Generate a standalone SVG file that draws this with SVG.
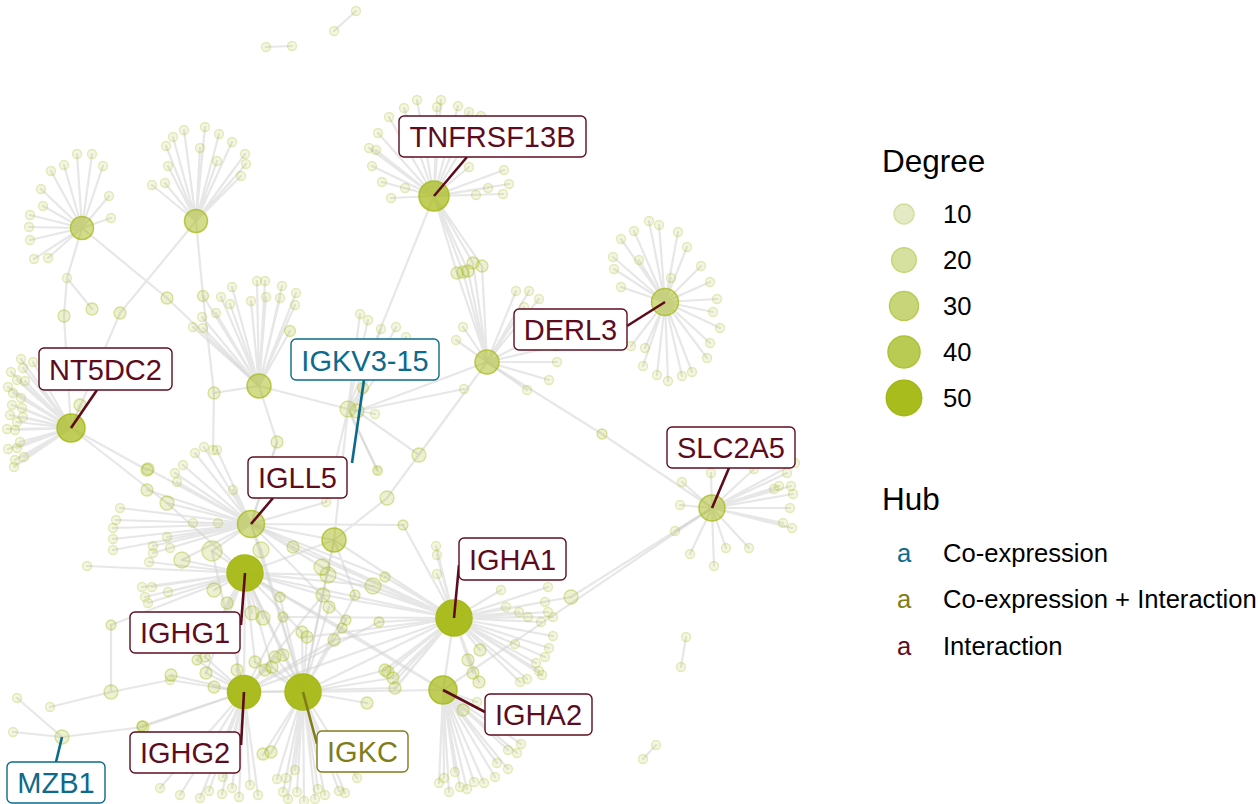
<svg xmlns="http://www.w3.org/2000/svg" width="1258" height="804" viewBox="0 0 1258 804">
<style>
.e{fill:none;stroke:#d4d4d4;stroke-opacity:.55;stroke-width:2.2;stroke-linecap:round}
circle{fill:#a7ba18;stroke:#a7ba18}
.l{fill-opacity:.13;stroke-opacity:.28;stroke-width:1.3}
.s{fill-opacity:.2;stroke-opacity:.4;stroke-width:1.3}
.m{fill-opacity:.5;stroke-opacity:.75;stroke-width:1.5}
.b{fill-opacity:.72;stroke-opacity:.85;stroke-width:1.5}
.h{fill-opacity:.97;stroke-opacity:1;stroke-width:1.5}
.lb rect{fill:#fff;stroke-width:1.4}
.lb text{font-family:"Liberation Sans",Arial,sans-serif;font-size:29px;text-anchor:middle}
.lb line{stroke-width:2.6}
.int rect,.int line{stroke:#5e0c1d}.int text{fill:#5e0c1d}
.co rect,.co line{stroke:#0c6a8c}.co text{fill:#0c6a8c}
.ci rect,.ci line{stroke:#807c18}.ci text{fill:#807c18}
.lg{font-family:"Liberation Sans",Arial,sans-serif;font-size:25.6px;fill:#000}
.lt{font-family:"Liberation Sans",Arial,sans-serif;font-size:31.5px;fill:#000}
</style>
<rect width="1258" height="804" fill="#fff"/>
<g id="connectors" class="e">
<path d="M434 196L417 100M434 196L441 100M434 196L404 108M434 196L437 107M434 196L458 106M434 196L469 112M434 196L481 116M434 196L389 117M434 196L378 133M434 196L369 148M434 196L376 150M434 196L372 166M434 196L382 182M434 196L405 188M434 196L391 198M434 196L469 167M434 196L504 170M434 196L509 184M434 196L488 188M434 196L503 194M434 196L476 195"/>
<path d="M665 302L649 221M665 302L659 225M665 302L634 231M665 302L678 232M665 302L621 239M665 302L687 247M665 302L613 257M665 302L639 260M665 302L614 269M665 302L701 266M665 302L671 278M665 302L710 282M665 302L621 287M665 302L717 299M665 302L713 312M665 302L720 328M665 302L710 343M665 302L707 358M665 302L631 346M665 302L645 348M665 302L643 366M665 302L657 375M665 302L668 381M665 302L682 376M665 302L692 372"/>
<path d="M712 508L711 473M712 508L682 482M712 508L754 469M712 508L787 473M712 508L795 463M712 508L779 486M712 508L791 486M712 508L774 489M712 508L793 494M712 508L790 508M712 508L680 505M712 508L783 523M712 508L792 528M712 508L675 531M712 508L726 548M712 508L749 548M712 508L690 554M712 508L714 566"/>
<path d="M71 428L21 359M71 428L33 362M71 428L11 372M71 428L23 368M71 428L17 380M71 428L25 381M71 428L8 387M71 428L13 393M71 428L21 398M71 428L12 405M71 428L22 408M71 428L23 417M71 428L10 415M71 428L17 422M71 428L7 429M71 428L15 430M71 428L20 442M71 428L8 449M71 428L17 448M71 428L24 457M71 428L15 460M71 428L14 467M71 428L80 405"/>
<path d="M82 228L77 154M82 228L92 154M82 228L64 165M82 228L103 166M82 228L51 171M82 228L41 189M82 228L109 196M82 228L43 206M82 228L30 215M82 228L111 218M82 228L29 227M82 228L30 240M82 228L34 259M82 228L48 258"/>
<path d="M196 221L152 185M196 221L165 183M196 221L168 166M196 221L166 146M196 221L173 137M196 221L184 130M196 221L205 127M196 221L219 134M196 221L200 148M196 221L232 142M196 221L217 161M196 221L245 154M196 221L246 164M196 221L241 176"/>
<path d="M259 386L232 287M259 386L257 281M259 386L265 281M259 386L282 286M259 386L203 296M259 386L221 297M259 386L230 304M259 386L251 301M259 386L266 297M259 386L280 298M259 386L296 293M259 386L295 305M259 386L216 313M259 386L202 317M259 386L193 327M259 386L203 328M259 386L290 331M259 386L214 393"/>
<path d="M348 409L360 314M348 409L368 320M352 410L381 329M352 410L396 327M352 410L406 337M348 409L363 388M348 409L375 414M348 409L378 471M357 411L464 389"/>
<path d="M487 362L516 291M487 362L529 291M487 362L539 299M487 362L524 307M487 362L463 327M487 362L456 340M487 362L546 332M487 362L556 346M487 362L557 362M487 362L549 380M487 362L527 390"/>
<path d="M251 524L195 453M251 524L204 447M251 524L217 450M251 524L277 442M251 524L148 469M251 524L183 465M251 524L175 473M251 524L177 482M251 524L147 490M251 524L120 508M251 524L167 503M251 524L116 520M251 524L113 528M251 524L113 539M251 524L113 550M251 524L193 523M251 524L218 523M251 524L167 537M251 524L153 546M251 524L170 548M251 524L153 553M251 524L233 490M251 524L326 502M251 524L212 551M251 524L182 560M251 524L261 550M251 524L293 547M251 524L334 540M251 524L322 567"/>
<path d="M245 573L149 562M245 573L142 587M245 573L152 587M245 573L168 592M245 573L145 597M245 573L148 603M245 573L214 590M245 573L227 603M245 573L252 613M245 573L263 618M245 573L111 625M245 573L87 566M245 573L212 551M245 573L182 560M245 573L328 575M245 573L323 595M245 573L280 597M245 573L302 632M245 573L342 628M245 573L373 586M245 573L197 660M245 573L205 657M245 573L237 670M245 573L255 662M245 573L272 667M245 573L283 655M245 573L206 673M245 573L334 540"/>
<path d="M244 692L212 551M244 692L323 595M244 692L283 617M244 692L334 640M244 692L379 622M244 692L197 660M244 692L205 657M244 692L237 670M244 692L265 670M244 692L275 657M244 692L171 675M244 692L206 673M244 692L214 687M244 692L142 726M244 692L395 688M244 692L222 794M244 692L232 788M244 692L239 797M244 692L209 791M244 692L223 777M244 692L160 788M244 692L180 795M244 692L200 798M244 692L250 785M244 692L258 795"/>
<path d="M303 692L277 779M303 692L286 778M303 692L295 770M303 692L283 792M303 692L297 792M303 692L288 799M303 692L304 801M303 692L315 799M303 692L318 789M303 692L325 795M303 692L339 791M303 692L345 793M303 692L357 778M303 692L263 755M303 692L271 753M303 692L367 703M303 692L385 670M303 692L393 678M303 692L329 607M303 692L280 597M303 692L302 632M303 692L307 637M303 692L346 620M303 692L355 595M303 692L261 550M303 692L255 662M303 692L265 670M303 692L272 667M303 692L283 655M303 692L275 657M303 692L334 540"/>
<path d="M454 618L436 546M454 618L437 555M454 618L437 574M454 618L403 525M454 618L501 590M454 618L548 587M454 618L506 607M454 618L545 602M454 618L571 597M454 618L519 612M454 618L528 617M454 618L541 622M454 618L548 612M454 618L553 617M454 618L553 636M454 618L515 644M454 618L549 648M454 618L545 657M454 618L536 663M454 618L539 671M454 618L542 675M454 618L480 650M454 618L468 660M454 618L473 673M454 618L479 682M454 618L527 679M454 618L520 682M454 618L388 672M454 618L393 683M454 618L395 689M454 618L322 567M454 618L328 575M454 618L323 595M454 618L283 617M454 618L307 637M454 618L334 640M454 618L373 586M454 618L385 577M454 618L379 622M454 618L293 547M454 618L385 670M454 618L393 678M454 618L395 688M454 618L334 540M454 618L245 573M454 618L303 692M454 618L244 692M454 618L251 524"/>
<path d="M443 690L477 702M443 690L463 710M443 690L521 744M443 690L508 750M443 690L517 753M443 690L497 763M443 690L508 769M443 690L495 777M443 690L484 783M443 690L474 782M443 690L467 789M443 690L460 787M443 690L455 772M443 690L449 792M443 690L444 778M443 690L439 783M443 690L342 628M443 690L303 692M443 690L245 573M443 690L454 618M443 690L712 508"/>
<path d="M82 228L67 278L64 316L71 428M67 278L92 309M82 228L167 298L259 386M196 221L120 313L71 428M196 221L203 296L214 393L213 450M434 196L457 273L487 362M434 196L463 272L487 362M434 196L468 271L487 362M434 196L473 263L487 362M434 196L482 266L487 362M434 196L348 409M487 362L602 434L712 508M712 508L571 597M487 362L419 455L357 411M487 362L387 498L334 540M487 362L357 411M259 386L277 442L251 524M348 409L334 540M71 428L147 470M71 428L167 503L245 573M259 386L348 409M334 540L303 692M251 524L303 692M245 573L303 692M245 573L244 692M244 692L303 692M62 737L17 698M62 737L13 732M62 737L143 727L244 692M50 707L111 692L170 680L244 692M111 692L111 625M355 595L334 540M377 470L348 409M403 525L251 524M385 577L251 524M326 502L348 409M346 620L251 524"/>
<path d="M266 47L292 46M334 31L356 11M686 637L681 667M656 745L643 759"/>
</g>
<g id="leaves">
<circle class="l" r="4.5" cx="417" cy="100"/><circle class="l" r="4.5" cx="441" cy="100"/><circle class="l" r="4.5" cx="404" cy="108"/><circle class="l" r="4.5" cx="437" cy="107"/><circle class="l" r="4.5" cx="458" cy="106"/><circle class="l" r="4.5" cx="469" cy="112"/><circle class="l" r="4.5" cx="481" cy="116"/><circle class="l" r="4.5" cx="389" cy="117"/><circle class="l" r="4.5" cx="378" cy="133"/><circle class="l" r="4.5" cx="369" cy="148"/><circle class="l" r="4.5" cx="376" cy="150"/><circle class="l" r="4.5" cx="372" cy="166"/><circle class="l" r="4.5" cx="382" cy="182"/><circle class="l" r="4.5" cx="405" cy="188"/><circle class="l" r="4.5" cx="391" cy="198"/><circle class="l" r="4.5" cx="469" cy="167"/><circle class="l" r="4.5" cx="504" cy="170"/><circle class="l" r="4.5" cx="509" cy="184"/><circle class="l" r="4.5" cx="488" cy="188"/><circle class="l" r="4.5" cx="503" cy="194"/><circle class="l" r="4.5" cx="476" cy="195"/>
<circle class="s" r="6" cx="457" cy="273"/><circle class="s" r="6" cx="463" cy="272"/><circle class="s" r="6" cx="468" cy="271"/><circle class="s" r="6" cx="473" cy="263"/><circle class="s" r="6" cx="482" cy="266"/>
<circle class="l" r="4.5" cx="649" cy="221"/><circle class="l" r="4.5" cx="659" cy="225"/><circle class="l" r="4.5" cx="634" cy="231"/><circle class="l" r="4.5" cx="678" cy="232"/><circle class="l" r="4.5" cx="621" cy="239"/><circle class="l" r="4.5" cx="687" cy="247"/><circle class="l" r="4.5" cx="613" cy="257"/><circle class="l" r="4.5" cx="639" cy="260"/><circle class="l" r="4.5" cx="614" cy="269"/><circle class="l" r="4.5" cx="701" cy="266"/><circle class="l" r="4.5" cx="671" cy="278"/><circle class="l" r="4.5" cx="710" cy="282"/><circle class="l" r="4.5" cx="621" cy="287"/><circle class="l" r="4.5" cx="717" cy="299"/><circle class="l" r="4.5" cx="713" cy="312"/><circle class="l" r="4.5" cx="720" cy="328"/><circle class="l" r="4.5" cx="710" cy="343"/><circle class="l" r="4.5" cx="707" cy="358"/><circle class="l" r="4.5" cx="631" cy="346"/><circle class="l" r="4.5" cx="645" cy="348"/><circle class="l" r="4.5" cx="643" cy="366"/><circle class="l" r="4.5" cx="657" cy="375"/><circle class="l" r="4.5" cx="668" cy="381"/><circle class="l" r="4.5" cx="682" cy="376"/><circle class="l" r="4.5" cx="692" cy="372"/>
<circle class="l" r="4.5" cx="711" cy="473"/><circle class="l" r="4.5" cx="682" cy="482"/><circle class="l" r="4.5" cx="754" cy="469"/><circle class="l" r="4.5" cx="787" cy="473"/><circle class="l" r="4.5" cx="795" cy="463"/><circle class="l" r="4.5" cx="779" cy="486"/><circle class="l" r="4.5" cx="791" cy="486"/><circle class="l" r="4.5" cx="774" cy="489"/><circle class="l" r="4.5" cx="793" cy="494"/><circle class="l" r="4.5" cx="790" cy="508"/><circle class="l" r="4.5" cx="680" cy="505"/><circle class="l" r="4.5" cx="783" cy="523"/><circle class="l" r="4.5" cx="792" cy="528"/><circle class="l" r="4.5" cx="675" cy="531"/><circle class="l" r="4.5" cx="726" cy="548"/><circle class="l" r="4.5" cx="749" cy="548"/><circle class="l" r="4.5" cx="690" cy="554"/><circle class="l" r="4.5" cx="714" cy="566"/><circle class="s" r="5" cx="602" cy="434"/>
<circle class="l" r="4.5" cx="21" cy="359"/><circle class="l" r="4.5" cx="33" cy="362"/><circle class="l" r="4.5" cx="11" cy="372"/><circle class="l" r="4.5" cx="23" cy="368"/><circle class="l" r="4.5" cx="17" cy="380"/><circle class="l" r="4.5" cx="25" cy="381"/><circle class="l" r="4.5" cx="8" cy="387"/><circle class="l" r="4.5" cx="13" cy="393"/><circle class="l" r="4.5" cx="21" cy="398"/><circle class="l" r="4.5" cx="12" cy="405"/><circle class="l" r="4.5" cx="22" cy="408"/><circle class="l" r="4.5" cx="23" cy="417"/><circle class="l" r="4.5" cx="10" cy="415"/><circle class="l" r="4.5" cx="17" cy="422"/><circle class="l" r="4.5" cx="7" cy="429"/><circle class="l" r="4.5" cx="15" cy="430"/><circle class="l" r="4.5" cx="20" cy="442"/><circle class="l" r="4.5" cx="8" cy="449"/><circle class="l" r="4.5" cx="17" cy="448"/><circle class="l" r="4.5" cx="24" cy="457"/><circle class="l" r="4.5" cx="15" cy="460"/><circle class="l" r="4.5" cx="14" cy="467"/><circle class="s" r="6" cx="80" cy="405"/>
<circle class="l" r="4.5" cx="77" cy="154"/><circle class="l" r="4.5" cx="92" cy="154"/><circle class="l" r="4.5" cx="64" cy="165"/><circle class="l" r="4.5" cx="103" cy="166"/><circle class="l" r="4.5" cx="51" cy="171"/><circle class="l" r="4.5" cx="41" cy="189"/><circle class="l" r="4.5" cx="109" cy="196"/><circle class="l" r="4.5" cx="43" cy="206"/><circle class="l" r="4.5" cx="30" cy="215"/><circle class="l" r="4.5" cx="111" cy="218"/><circle class="l" r="4.5" cx="29" cy="227"/><circle class="l" r="4.5" cx="30" cy="240"/><circle class="l" r="4.5" cx="34" cy="259"/><circle class="l" r="4.5" cx="48" cy="258"/>
<circle class="l" r="4.5" cx="152" cy="185"/><circle class="l" r="4.5" cx="165" cy="183"/><circle class="l" r="4.5" cx="168" cy="166"/><circle class="l" r="4.5" cx="166" cy="146"/><circle class="l" r="4.5" cx="173" cy="137"/><circle class="l" r="4.5" cx="184" cy="130"/><circle class="l" r="4.5" cx="205" cy="127"/><circle class="l" r="4.5" cx="219" cy="134"/><circle class="l" r="4.5" cx="200" cy="148"/><circle class="l" r="4.5" cx="232" cy="142"/><circle class="l" r="4.5" cx="217" cy="161"/><circle class="l" r="4.5" cx="245" cy="154"/><circle class="l" r="4.5" cx="246" cy="164"/><circle class="l" r="4.5" cx="241" cy="176"/>
<circle class="l" r="4.5" cx="67" cy="278"/><circle class="s" r="6" cx="64" cy="316"/><circle class="s" r="6" cx="92" cy="309"/><circle class="s" r="6" cx="120" cy="313"/><circle class="s" r="6" cx="167" cy="298"/><circle class="s" r="6" cx="147" cy="470"/>
<circle class="l" r="4.5" cx="232" cy="287"/><circle class="l" r="4.5" cx="257" cy="281"/><circle class="l" r="4.5" cx="265" cy="281"/><circle class="l" r="4.5" cx="282" cy="286"/><circle class="s" r="5.5" cx="203" cy="296"/><circle class="l" r="4.5" cx="221" cy="297"/><circle class="l" r="4.5" cx="230" cy="304"/><circle class="l" r="4.5" cx="251" cy="301"/><circle class="l" r="4.5" cx="266" cy="297"/><circle class="l" r="4.5" cx="280" cy="298"/><circle class="l" r="4.5" cx="296" cy="293"/><circle class="l" r="4.5" cx="295" cy="305"/><circle class="l" r="4.5" cx="216" cy="313"/><circle class="l" r="4.5" cx="202" cy="317"/><circle class="l" r="4.5" cx="193" cy="327"/><circle class="l" r="4.5" cx="203" cy="328"/><circle class="s" r="5.5" cx="290" cy="331"/><circle class="s" r="6" cx="214" cy="393"/>
<circle class="l" r="4.5" cx="360" cy="314"/><circle class="l" r="4.5" cx="368" cy="320"/><circle class="l" r="4.5" cx="381" cy="329"/><circle class="l" r="4.5" cx="396" cy="327"/><circle class="l" r="4.5" cx="406" cy="337"/><circle class="s" r="5.5" cx="363" cy="388"/><circle class="l" r="4.5" cx="375" cy="414"/><circle class="l" r="4.5" cx="378" cy="471"/><circle class="l" r="4.5" cx="464" cy="389"/><circle class="s" r="7" cx="419" cy="455"/><circle class="s" r="6" cx="277" cy="442"/>
<circle class="l" r="4.5" cx="516" cy="291"/><circle class="l" r="4.5" cx="529" cy="291"/><circle class="l" r="4.5" cx="539" cy="299"/><circle class="l" r="4.5" cx="524" cy="307"/><circle class="l" r="4.5" cx="463" cy="327"/><circle class="l" r="4.5" cx="456" cy="340"/><circle class="l" r="4.5" cx="546" cy="332"/><circle class="l" r="4.5" cx="556" cy="346"/><circle class="l" r="4.5" cx="557" cy="362"/><circle class="l" r="4.5" cx="549" cy="380"/><circle class="l" r="4.5" cx="527" cy="390"/>
<circle class="l" r="4.5" cx="195" cy="453"/><circle class="l" r="4.5" cx="204" cy="447"/><circle class="l" r="4.5" cx="217" cy="450"/><circle class="l" r="4.5" cx="213" cy="450"/><circle class="s" r="6" cx="148" cy="469"/><circle class="l" r="4.5" cx="183" cy="465"/><circle class="l" r="4.5" cx="175" cy="473"/><circle class="l" r="4.5" cx="177" cy="482"/><circle class="s" r="6" cx="147" cy="490"/><circle class="l" r="4.5" cx="120" cy="508"/><circle class="s" r="7" cx="167" cy="503"/><circle class="l" r="4.5" cx="116" cy="520"/><circle class="l" r="4.5" cx="113" cy="528"/><circle class="l" r="4.5" cx="113" cy="539"/><circle class="l" r="4.5" cx="113" cy="550"/><circle class="l" r="4.5" cx="193" cy="523"/><circle class="l" r="4.5" cx="218" cy="523"/><circle class="l" r="4.5" cx="167" cy="537"/><circle class="l" r="4.5" cx="153" cy="546"/><circle class="l" r="4.5" cx="170" cy="548"/><circle class="l" r="4.5" cx="153" cy="553"/><circle class="l" r="4.5" cx="233" cy="490"/><circle class="l" r="4.5" cx="326" cy="502"/>
<circle class="s" r="10" cx="212" cy="551"/><circle class="s" r="8" cx="182" cy="560"/><circle class="s" r="8" cx="261" cy="550"/><circle class="s" r="6" cx="293" cy="547"/>
<circle class="l" r="4.5" cx="149" cy="562"/><circle class="l" r="4.5" cx="142" cy="587"/><circle class="l" r="4.5" cx="152" cy="587"/><circle class="l" r="4.5" cx="168" cy="592"/><circle class="l" r="4.5" cx="145" cy="597"/><circle class="l" r="4.5" cx="148" cy="603"/><circle class="s" r="7" cx="214" cy="590"/><circle class="s" r="6" cx="227" cy="603"/><circle class="s" r="7" cx="252" cy="613"/><circle class="s" r="7" cx="263" cy="618"/><circle class="s" r="5" cx="111" cy="625"/><circle class="l" r="4.5" cx="87" cy="566"/>
<circle class="s" r="8" cx="322" cy="567"/><circle class="s" r="8" cx="328" cy="575"/><circle class="s" r="7" cx="323" cy="595"/><circle class="s" r="6" cx="329" cy="607"/><circle class="s" r="5" cx="280" cy="597"/><circle class="s" r="5" cx="283" cy="617"/><circle class="s" r="6" cx="302" cy="632"/><circle class="s" r="6" cx="307" cy="637"/><circle class="s" r="6" cx="334" cy="640"/><circle class="s" r="5" cx="346" cy="620"/><circle class="s" r="5" cx="342" cy="628"/><circle class="s" r="5" cx="355" cy="595"/><circle class="s" r="8" cx="373" cy="586"/><circle class="s" r="5" cx="385" cy="577"/><circle class="s" r="5" cx="379" cy="622"/><circle class="s" r="7" cx="387" cy="498"/><circle class="l" r="4.5" cx="377" cy="470"/><circle class="s" r="5" cx="403" cy="525"/><circle class="l" r="4.5" cx="436" cy="546"/><circle class="l" r="4.5" cx="437" cy="555"/><circle class="l" r="4.5" cx="437" cy="574"/>
<circle class="s" r="5" cx="197" cy="660"/><circle class="s" r="5" cx="205" cy="657"/><circle class="s" r="6" cx="237" cy="670"/><circle class="s" r="6" cx="255" cy="662"/><circle class="s" r="6" cx="265" cy="670"/><circle class="s" r="6" cx="272" cy="667"/><circle class="s" r="6" cx="283" cy="655"/><circle class="s" r="6" cx="275" cy="657"/><circle class="s" r="6" cx="171" cy="675"/><circle class="s" r="6" cx="206" cy="673"/><circle class="s" r="6" cx="214" cy="687"/><circle class="s" r="5" cx="142" cy="726"/><circle class="s" r="6" cx="367" cy="703"/><circle class="s" r="6" cx="385" cy="670"/><circle class="s" r="6" cx="393" cy="678"/><circle class="s" r="6" cx="395" cy="688"/><circle class="s" r="6" cx="388" cy="672"/>
<circle class="s" r="6" cx="263" cy="754"/><circle class="s" r="6" cx="271" cy="752"/>
<circle class="l" r="4.5" cx="277" cy="779"/><circle class="l" r="4.5" cx="286" cy="778"/><circle class="l" r="4.5" cx="295" cy="770"/><circle class="l" r="4.5" cx="283" cy="792"/><circle class="l" r="4.5" cx="297" cy="792"/><circle class="l" r="4.5" cx="288" cy="799"/><circle class="l" r="4.5" cx="304" cy="801"/><circle class="l" r="4.5" cx="315" cy="799"/><circle class="l" r="4.5" cx="318" cy="789"/><circle class="l" r="4.5" cx="325" cy="795"/><circle class="l" r="4.5" cx="339" cy="791"/><circle class="l" r="4.5" cx="345" cy="793"/><circle class="l" r="4.5" cx="357" cy="778"/>
<circle class="l" r="4.5" cx="222" cy="794"/><circle class="l" r="4.5" cx="232" cy="788"/><circle class="l" r="4.5" cx="239" cy="797"/><circle class="l" r="4.5" cx="209" cy="791"/><circle class="l" r="4.5" cx="223" cy="777"/><circle class="l" r="4.5" cx="160" cy="788"/><circle class="l" r="4.5" cx="180" cy="795"/><circle class="l" r="4.5" cx="200" cy="798"/><circle class="l" r="4.5" cx="250" cy="785"/><circle class="l" r="4.5" cx="258" cy="795"/>
<circle class="l" r="4.5" cx="501" cy="590"/><circle class="l" r="4.5" cx="548" cy="587"/><circle class="l" r="4.5" cx="506" cy="607"/><circle class="l" r="4.5" cx="545" cy="602"/><circle class="s" r="7" cx="571" cy="597"/><circle class="l" r="4.5" cx="519" cy="612"/><circle class="l" r="4.5" cx="528" cy="617"/><circle class="l" r="4.5" cx="541" cy="622"/><circle class="l" r="4.5" cx="548" cy="612"/><circle class="l" r="4.5" cx="553" cy="617"/><circle class="l" r="4.5" cx="553" cy="636"/><circle class="l" r="4.5" cx="515" cy="644"/><circle class="l" r="4.5" cx="549" cy="648"/><circle class="l" r="4.5" cx="545" cy="657"/><circle class="l" r="4.5" cx="536" cy="663"/><circle class="l" r="4.5" cx="539" cy="671"/><circle class="l" r="4.5" cx="542" cy="675"/><circle class="s" r="6" cx="480" cy="650"/><circle class="s" r="6" cx="468" cy="660"/><circle class="s" r="6" cx="473" cy="673"/><circle class="s" r="6" cx="479" cy="682"/><circle class="l" r="4.5" cx="527" cy="679"/><circle class="l" r="4.5" cx="520" cy="682"/>
<circle class="l" r="4.5" cx="477" cy="702"/><circle class="s" r="6" cx="463" cy="710"/><circle class="l" r="4.5" cx="521" cy="744"/><circle class="l" r="4.5" cx="508" cy="750"/><circle class="l" r="4.5" cx="517" cy="753"/><circle class="l" r="4.5" cx="497" cy="763"/><circle class="l" r="4.5" cx="508" cy="769"/><circle class="l" r="4.5" cx="495" cy="777"/><circle class="l" r="4.5" cx="484" cy="783"/><circle class="l" r="4.5" cx="474" cy="782"/><circle class="l" r="4.5" cx="467" cy="789"/><circle class="l" r="4.5" cx="460" cy="787"/><circle class="l" r="4.5" cx="455" cy="772"/><circle class="l" r="4.5" cx="449" cy="792"/><circle class="l" r="4.5" cx="444" cy="778"/><circle class="l" r="4.5" cx="439" cy="783"/>
<circle class="l" r="4.5" cx="17" cy="698"/><circle class="l" r="4.5" cx="13" cy="732"/><circle class="s" r="6" cx="143" cy="727"/><circle class="l" r="4.5" cx="50" cy="707"/><circle class="s" r="7" cx="111" cy="692"/><circle class="l" r="4.5" cx="170" cy="680"/>
<circle class="l" r="4.5" cx="266" cy="47"/><circle class="l" r="4.5" cx="292" cy="46"/><circle class="l" r="4.5" cx="334" cy="31"/><circle class="l" r="4.5" cx="356" cy="11"/><circle class="l" r="4.5" cx="686" cy="637"/><circle class="l" r="4.5" cx="681" cy="667"/><circle class="l" r="4.5" cx="656" cy="745"/><circle class="l" r="4.5" cx="643" cy="759"/>
</g>
<g id="mid-nodes">
<circle class="m" r="11.5" cx="82" cy="228"/>
<circle class="m" r="11.5" cx="196" cy="221"/>
<circle class="m" r="12" cx="487" cy="362"/>
<circle class="m" r="12" cx="259" cy="386"/>
<circle class="m" r="12" cx="334" cy="540"/>
<circle class="s" r="7" cx="357" cy="411"/>
</g>
<g id="IGKV3-15" class="lb co"><circle class="s" r="8" cx="348" cy="409"/><line x1="352" y1="463" x2="364" y2="380"/><rect x="291" y="339" width="148" height="41" rx="5"/><text x="365" y="371">IGKV3-15</text></g>
<g id="MZB1" class="lb co"><circle class="s" r="7" cx="62" cy="737"/><line x1="62" y1="737" x2="56" y2="762"/><rect x="7" y="762" width="98" height="41" rx="5"/><text x="56" y="793">MZB1</text></g>
<g id="TNFRSF13B" class="lb int"><circle class="b" r="15" cx="434" cy="196"/><line x1="434" y1="196" x2="467" y2="157"/><rect x="399" y="116" width="187" height="41" rx="5"/><text x="492.5" y="147">TNFRSF13B</text></g>
<g id="DERL3" class="lb int"><circle class="m" r="13.5" cx="665" cy="302"/><line x1="665" y1="302" x2="627" y2="326"/><rect x="514" y="309" width="113" height="41" rx="5"/><text x="570.5" y="340">DERL3</text></g>
<g id="NT5DC2" class="lb int"><circle class="b" r="14" cx="71" cy="428"/><line x1="71" y1="428" x2="97" y2="390"/><rect x="39" y="348" width="133" height="42" rx="5"/><text x="105.5" y="380">NT5DC2</text></g>
<g id="SLC2A5" class="lb int"><circle class="m" r="13" cx="712" cy="508"/><line x1="712" y1="508" x2="729" y2="468"/><rect x="667" y="427" width="128" height="41" rx="5"/><text x="731" y="458">SLC2A5</text></g>
<g id="IGLL5" class="lb int"><circle class="m" r="13.5" cx="251" cy="524"/><line x1="251" y1="524" x2="273" y2="498"/><rect x="248" y="457" width="99" height="41" rx="5"/><text x="297.5" y="488">IGLL5</text></g>
<g id="IGHG1" class="lb int"><circle class="h" r="18" cx="245" cy="573"/><line x1="245" y1="573" x2="241" y2="625"/><rect x="130" y="612" width="110" height="41" rx="5"/><text x="185" y="643">IGHG1</text></g>
<g id="IGHG2" class="lb int"><circle class="h" r="16.5" cx="244" cy="692"/><line x1="244" y1="692" x2="241" y2="745"/><rect x="130" y="732" width="110" height="41" rx="5"/><text x="185" y="763">IGHG2</text></g>
<g id="IGKC" class="lb ci"><circle class="h" r="18" cx="303" cy="692"/><line x1="303" y1="692" x2="317" y2="744"/><rect x="317" y="731" width="91" height="41" rx="5"/><text x="362.5" y="762">IGKC</text></g>
<g id="IGHA1" class="lb int"><circle class="h" r="18" cx="454" cy="618"/><line x1="454" y1="618" x2="459" y2="565"/><rect x="459" y="538" width="107" height="42" rx="5"/><text x="512.5" y="570">IGHA1</text></g>
<g id="IGHA2" class="lb int"><circle class="b" r="14" cx="443" cy="690"/><line x1="443" y1="690" x2="485" y2="712"/><rect x="485" y="694" width="107" height="41" rx="5"/><text x="538.5" y="725">IGHA2</text></g>
<g id="legend">
<text class="lt" x="882" y="172">Degree</text>
<circle cx="904" cy="214" r="10" style="fill:#e3eac4;stroke:#d4df9f;stroke-width:1.5"/>
<circle cx="904" cy="260" r="12.3" style="fill:#d6e19f;stroke:#c6d67b;stroke-width:1.5"/>
<circle cx="904" cy="306" r="14.5" style="fill:#c8d679;stroke:#b9cb55;stroke-width:1.5"/>
<circle cx="904" cy="352" r="16" style="fill:#b9cb52;stroke:#aec234;stroke-width:1.5"/>
<circle cx="904" cy="398" r="17.7" style="fill:#a9bc1d;stroke:#a3b714;stroke-width:1.5"/>
<text class="lg" x="943" y="223">10</text>
<text class="lg" x="943" y="269">20</text>
<text class="lg" x="943" y="315">30</text>
<text class="lg" x="943" y="361">40</text>
<text class="lg" x="943" y="407">50</text>
<text class="lt" x="882" y="510">Hub</text>
<text class="lg" x="904" y="562" text-anchor="middle" style="fill:#0c6a8c">a</text>
<text class="lg" x="904" y="608" text-anchor="middle" style="fill:#807c18">a</text>
<text class="lg" x="904" y="655" text-anchor="middle" style="fill:#5e0c1d">a</text>
<text class="lg" x="943" y="562">Co-expression</text>
<text class="lg" x="943" y="608">Co-expression + Interaction</text>
<text class="lg" x="943" y="655">Interaction</text>
</g>
</svg>
